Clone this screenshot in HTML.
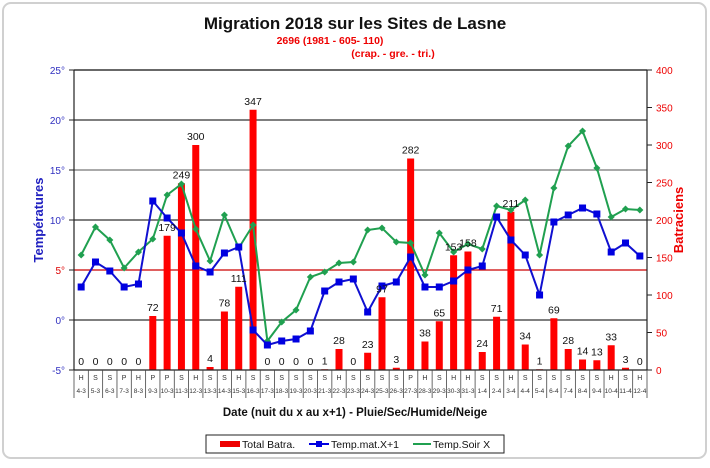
<!DOCTYPE html>
<html><head><meta charset="utf-8"><style>
body{margin:0;background:#fff;width:710px;height:463px;overflow:hidden;font-family:"Liberation Sans",Arial,sans-serif}
svg text{font-family:"Liberation Sans",Arial,sans-serif}
</style></head><body>
<svg id="chart" width="710" height="463">
<rect x="3" y="3" width="703" height="455" rx="8" fill="#fff" stroke="#d0d0d0" stroke-width="2"/>
<text x="355" y="29" text-anchor="middle" font-size="17" font-weight="bold" fill="#111">Migration 2018 sur les Sites de Lasne</text>
<text x="330" y="44" text-anchor="middle" font-size="10.5" font-weight="bold" fill="#e00">2696 (1981 - 605- 110)</text>
<text x="393" y="57" text-anchor="middle" font-size="10.5" font-weight="bold" fill="#e00">(crap. -  gre. - tri.)</text>
<text transform="translate(43,220) rotate(-90)" text-anchor="middle" font-size="13" font-weight="bold" fill="#2020c0">Températures</text>
<text transform="translate(683,220) rotate(-90)" text-anchor="middle" font-size="13" font-weight="bold" fill="#e00">Batraciens</text>
<text x="355" y="416" text-anchor="middle" font-size="11.5" font-weight="bold" fill="#111">Date (nuit du x au x+1) - Pluie/Sec/Humide/Neige</text>
<g id="plot"></g>
<g>
<rect x="206" y="435" width="298" height="18" fill="#fff" stroke="#222"/>
<rect x="220" y="441" width="20" height="6" fill="#e00"/>
<text x="242" y="448" font-size="10.5" fill="#111">Total Batra.</text>
<line x1="309" y1="444" x2="329" y2="444" stroke="#0000e0" stroke-width="2"/>
<rect x="316" y="441" width="6" height="6" fill="#0000e0"/>
<text x="331" y="448" font-size="10.5" fill="#111">Temp.mat.X+1</text>
<line x1="413" y1="444" x2="431" y2="444" stroke="#20a050" stroke-width="2"/>
<text x="433" y="448" font-size="10.5" fill="#111">Temp.Soir X</text>
</g>
</svg>
<script>
const dates=["4-3","5-3","6-3","7-3","8-3","9-3","10-3","11-3","12-3","13-3","14-3","15-3","16-3","17-3","18-3","19-3","20-3","21-3","22-3","23-3","24-3","25-3","26-3","27-3","28-3","29-3","30-3","31-3","1-4","2-4","3-4","4-4","5-4","6-4","7-4","8-4","9-4","10-4","11-4","12-4"];
const weather=["H","S","S","P","H","P","P","S","H","S","S","H","S","S","S","S","S","S","H","S","S","S","S","P","H","S","H","H","S","S","H","S","S","S","S","S","S","H","S","H"];
const totals=[0,0,0,0,0,72,179,249,300,4,78,111,347,0,0,0,0,1,28,0,23,97,3,282,38,65,153,158,24,71,211,34,1,69,28,14,13,33,3,0];
const tempMat=[3.3,5.8,4.9,3.3,3.6,11.9,10.2,8.7,5.4,4.8,6.7,7.3,-1.0,-2.5,-2.1,-1.9,-1.1,2.9,3.8,4.1,0.8,3.4,3.8,6.3,3.3,3.3,3.9,5.0,5.4,10.3,8.0,6.5,2.5,9.8,10.5,11.2,10.6,6.8,7.7,6.4];
const tempSoir=[6.5,9.3,8.0,5.2,6.8,8.1,12.5,13.6,9.1,5.9,10.5,7.2,9.5,-2.1,-0.2,1.0,4.3,4.8,5.7,5.8,9.0,9.2,7.8,7.7,4.5,8.7,6.8,7.6,7.1,11.4,11.0,12.0,6.5,13.2,17.4,18.9,15.2,10.3,11.1,11.0];
const tTicks=[-5,0,5,10,15,20,25];
const bTicks=[0,50,100,150,200,250,300,350,400];

const L=74,R=647,T=70,B=370;
const n=dates.length, bw=(R-L)/n;
const xc=i=>L+bw*(i+0.5);
const yT=v=>B-(v+5)/30*(B-T);
const yB=v=>B-v/400*(B-T);
const g=document.getElementById('plot');
const NS="http://www.w3.org/2000/svg";
function mk(tag,attrs){const e=document.createElementNS(NS,tag);for(const k in attrs)e.setAttribute(k,attrs[k]);g.appendChild(e);return e;}

tTicks.forEach(t=>{
  const y=yT(t);
  if(t>-5){const ln=mk('line',{x1:L,x2:R,y1:y,y2:y,stroke:t===5?'#c00':(t%10===0?'#333':'#777'),'stroke-width':1.2});
  
  }
  mk('line',{x1:L-5,x2:L,y1:y,y2:y,stroke:'#222'});
  const tx=mk('text',{x:L-9,y:y+4,'text-anchor':'end','font-size':10,fill:t===5?'#d00':'#3030c0'});
  tx.textContent=t+'°';
  
  
});
bTicks.forEach(b=>{
  const y=yB(b);
  mk('line',{x1:R,x2:R+5,y1:y,y2:y,stroke:'#222'});
  const tx=mk('text',{x:R+9,y:y+4,'font-size':10,fill:'#e00'});
  tx.textContent=b;
  
  
});
totals.forEach((v,i)=>{
  const r=mk('rect',{x:xc(i)-3.5,y:yB(v),width:7,height:B-yB(v),fill:'#f00'});
  
  
});
function line(arr,col,name){
  const pl=mk('polyline',{points:arr.map((v,i)=>xc(i)+','+yT(v)).join(' '),fill:'none',stroke:col,'stroke-width':2});
  
  
}
line(tempSoir,'#20a050','line-temp-soir');
tempSoir.forEach((v,i)=>{
  const p=mk('rect',{x:xc(i)-2.5,y:yT(v)-2.5,width:5,height:5,fill:'#20a050',transform:`rotate(45 ${xc(i)} ${yT(v)})`});
  
  
});
line(tempMat,'#1010d0','line-temp-mat');
tempMat.forEach((v,i)=>{
  const p=mk('rect',{x:xc(i)-3.5,y:yT(v)-3.5,width:7,height:7,fill:'#0000e0'});
  
  
});
totals.forEach((v,i)=>{
  const tx=mk('text',{x:xc(i),y:yB(v)-5,'text-anchor':'middle','font-size':10.5,fill:'#111'});
  tx.textContent=v;
  
  
});
mk('line',{x1:L,x2:L,y1:T,y2:B,stroke:'#222','stroke-width':1.2});
mk('line',{x1:R,x2:R,y1:T,y2:B,stroke:'#222','stroke-width':1.2});
mk('line',{x1:L,x2:R,y1:T,y2:T,stroke:'#222','stroke-width':1.2});
mk('line',{x1:L,x2:R,y1:B,y2:B,stroke:'#222','stroke-width':1.2});
for(let i=0;i<=n;i++){const x=L+bw*i;mk('line',{x1:x,x2:x,y1:B,y2:B+28,stroke:'#444','stroke-width':0.8});}
dates.forEach((d,i)=>{
  const w=mk('text',{x:xc(i),y:B+10,'text-anchor':'middle','font-size':7,fill:'#333'});
  w.textContent=weather[i];
  
  
  const t=mk('text',{x:xc(i),y:B+23,'text-anchor':'middle','font-size':6.5,fill:'#333'});
  t.textContent=d;
  
  
});
</script>
</body></html>
